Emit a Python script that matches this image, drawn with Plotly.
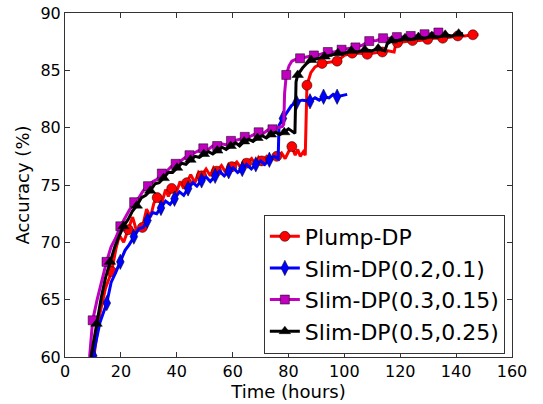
import plotly.graph_objects as go

# ---- data (time in hours, accuracy in %) ----
plump_t = [10.3, 12.5, 14.5, 16.7, 18.2, 19.5, 21.0, 22.7, 24.2, 25.6, 27.7, 29.2, 30.6, 31.8,
           33.0, 34.5, 36.0, 37.0, 38.2, 39.8, 41.2, 42.5, 43.6, 45.0, 46.5, 47.8, 48.9, 50.5,
           52.0, 53.2, 54.3, 56.0, 57.5, 58.6, 59.7, 61.5, 63.0, 64.0, 65.0, 66.8, 68.2, 69.3,
           70.4, 72.2, 73.6, 74.7, 75.8, 77.5, 78.8, 80.0, 81.2, 82.4, 83.3, 84.2, 85.3, 86.0,
           86.6, 88.0, 89.5, 92.0, 94.5, 97.4, 100.0, 102.8, 105.0, 108.2, 110.5, 113.6, 115.5,
           117.8, 118.4, 119.0, 122.0, 124.4, 127.0, 129.8, 132.0, 135.2, 137.5, 140.6, 143.0,
           146.0, 148.0]
plump_acc = [60.0, 63.8, 66.0, 67.45, 69.4, 70.6, 70.0, 71.1, 72.2, 71.0, 71.3, 72.9, 72.2, 73.4,
             73.9, 73.3, 74.6, 74.0, 74.7, 74.3, 75.3, 74.7, 75.2, 75.9, 75.2, 76.1, 75.8, 76.4,
             75.8, 76.5, 76.2, 76.7, 76.1, 76.8, 76.6, 77.0, 76.5, 77.1, 76.9, 77.3, 76.8, 77.4,
             77.1, 77.5, 77.1, 77.6, 77.5, 77.8, 77.3, 77.9, 78.35, 77.6, 78.1, 77.5, 77.9, 77.6,
             83.7, 84.8, 85.3, 85.6, 85.7, 85.8, 86.3, 86.5, 86.5, 86.4, 86.5, 86.6, 86.7,
             86.6, 87.3, 87.4, 87.5, 87.6, 87.6, 87.7, 87.8, 87.8, 87.9, 88.0, 88.0,
             88.1, 88.1]
plump_mark_t = [16.7, 22.7, 27.7, 33.0, 38.2, 43.6, 48.9, 54.3, 59.7, 65.0, 70.4, 75.8, 81.2,
                86.6, 92.0, 97.4, 102.8, 108.2, 113.6, 119.0, 124.4, 129.8, 135.2, 140.6, 146.0]
plump_mark_acc = [67.45, 71.1, 71.3, 73.9, 74.7, 75.2, 75.8, 76.2, 76.6, 76.9, 77.1, 77.5, 78.35,
                  83.7, 85.6, 85.8, 86.5, 86.4, 86.6, 87.4, 87.6, 87.7, 87.8, 88.0, 88.1]

slim1_t = [10.0, 12.5, 14.95, 16.5, 18.2, 19.8, 21.5, 23.0, 24.65, 26.5, 28.0, 29.5, 31.3, 32.8,
           34.35, 36.0, 37.6, 39.2, 41.0, 42.5, 44.05, 45.8, 47.2, 48.9, 50.5, 52.0, 53.75, 55.3,
           57.0, 58.6, 60.2, 61.8, 63.45, 65.0, 66.7, 68.3, 70.0, 71.5, 73.15, 74.8, 76.3, 76.6,
           78.0, 79.5, 81.0, 83.0, 85.0, 87.7, 89.5, 91.0, 92.55, 94.5, 96.0, 97.4, 99.0, 101.0]
slim1_acc = [60.1, 63.0, 64.7, 66.5, 67.4, 68.3, 69.3, 69.8, 70.5, 71.2, 71.3, 71.9, 72.6, 72.5,
             73.0, 73.6, 73.3, 73.8, 74.4, 74.1, 74.7, 75.2, 74.9, 75.4, 75.7, 75.3, 75.8, 76.2,
             75.8, 76.2, 76.5, 76.1, 76.4, 76.8, 76.4, 76.8, 77.1, 76.8, 77.2, 77.5, 77.3, 80.2,
             80.8, 81.4, 81.9, 82.3, 82.4, 82.3, 82.6, 82.4, 82.7, 82.6, 82.9, 82.7, 82.8, 82.9]
slim1_mark_t = [10.1, 14.95, 19.8, 24.65, 29.5, 34.35, 39.2, 44.05, 48.9, 53.75, 58.6, 63.45,
                68.3, 73.15, 78.0, 82.85, 87.7, 92.55, 97.4]
slim1_mark_acc = [60.1, 64.7, 68.3, 70.5, 71.9, 73.0, 73.8, 74.7, 75.4, 75.8, 76.2, 76.4,
                  76.8, 77.2, 80.8, 82.2, 82.3, 82.7, 82.7]

slim2_t = [8.8, 9.9, 11.5, 13.0, 14.85, 16.5, 18.2, 19.8, 21.5, 23.0, 24.75, 26.5, 28.0, 29.7,
           31.5, 33.0, 34.65, 36.4, 38.0, 39.6, 41.4, 43.0, 44.55, 46.3, 47.8, 49.5, 51.3, 52.8,
           54.45, 56.2, 57.7, 59.4, 61.2, 62.7, 64.35, 66.0, 67.6, 69.3, 71.0, 72.6, 74.25, 76.0,
           77.8, 78.3, 78.6, 79.2, 80.2, 81.2, 82.5, 84.15, 86.5, 89.1, 91.5, 94.05, 96.5, 99.0,
           101.5, 103.95, 106.5, 108.9, 111.5, 113.85, 116.5, 118.8, 121.0, 123.75, 126.0, 128.7,
           131.0, 133.65, 135.0]
slim2_acc = [60.0, 63.2, 65.0, 66.6, 68.3, 69.6, 70.4, 71.4, 72.2, 72.8, 73.5, 73.9, 74.5, 74.9,
             75.3, 75.5, 76.0, 76.2, 76.6, 76.85, 77.1, 77.4, 77.6, 77.8, 78.0, 78.2, 78.1, 78.4,
             78.4, 78.6, 78.5, 78.85, 78.9, 79.0, 79.2, 79.2, 79.4, 79.6, 79.5, 79.8, 79.86, 80.0,
             80.1, 80.3, 83.0, 84.6, 85.4, 85.8, 85.95, 86.05, 86.2, 86.3, 86.4, 86.6, 86.6, 86.8,
             86.9, 87.0, 87.2, 87.55, 87.6, 87.8, 87.8, 87.9, 87.9, 88.0, 88.0, 88.15,
             88.2, 88.3, 88.2]
slim2_mark_t = [9.9, 14.85, 19.8, 24.75, 29.7, 34.65, 39.6, 44.55, 49.5, 54.45, 59.4, 64.35,
                69.3, 74.25, 79.2, 84.15, 89.1, 94.05, 99.0, 103.95, 108.9, 113.85, 118.8,
                123.75, 128.7, 133.65]
slim2_mark_acc = [63.2, 68.3, 71.4, 73.5, 74.9, 76.0, 76.85, 77.6, 78.2, 78.4, 78.85, 79.2,
                  79.6, 79.86, 84.6, 86.05, 86.3, 86.6, 86.8, 87.0, 87.55, 87.8, 87.9,
                  88.0, 88.15, 88.3]

slim3_t = [9.3, 11.3, 13.0, 14.5, 16.1, 17.8, 19.3, 20.9, 22.6, 24.1, 25.7, 27.4, 28.9, 30.5,
           32.2, 33.7, 35.3, 37.0, 38.5, 40.1, 41.8, 43.3, 44.9, 46.6, 48.1, 49.7, 51.4, 52.9,
           54.5, 56.2, 57.7, 59.3, 61.0, 62.5, 64.1, 65.8, 67.3, 68.9, 70.6, 72.1, 73.7, 75.4,
           76.9, 78.5, 80.0, 81.2, 82.3, 82.7, 83.3, 85.0, 86.5, 88.1, 90.6, 92.9, 95.3, 97.7,
           100.1, 102.5, 104.9, 107.3, 109.7, 112.1, 114.5, 115.3, 116.9, 119.3, 121.7, 124.1,
           126.5, 128.9, 131.3, 133.7, 136.1, 138.5, 140.9, 142.5]
slim3_acc = [60.0, 62.9, 65.2, 66.9, 68.3, 69.6, 70.5, 71.4, 72.0, 72.7, 73.2, 73.9, 74.1, 74.5,
             75.1, 75.2, 75.6, 76.1, 76.1, 76.5, 76.9, 76.8, 77.2, 77.5, 77.4, 77.7, 77.9, 77.7,
             78.0, 78.3, 78.1, 78.4, 78.7, 78.4, 78.8, 79.0, 78.8, 79.1, 79.3, 79.1, 79.4, 79.6,
             79.4, 79.6, 79.9, 79.7, 79.5, 84.0, 84.6, 85.2, 85.6, 85.9, 86.05, 86.2, 86.3, 86.5,
             86.5, 86.7, 86.6, 86.8, 86.7, 86.9, 86.7, 87.3, 87.6, 87.6, 87.8, 87.7,
             87.9, 87.8, 88.0, 87.9, 88.1, 88.0, 88.2, 88.2]
slim3_mark_t = [11.3, 16.1, 20.9, 25.7, 30.5, 35.3, 40.1, 44.9, 49.7, 54.5, 59.3, 64.1, 68.9,
                73.7, 78.5, 83.3, 88.1, 92.9, 97.7, 102.5, 107.3, 112.1, 116.9, 121.7, 126.5,
                131.3, 136.1, 140.9]
slim3_mark_acc = [62.9, 68.3, 71.4, 73.2, 74.5, 75.6, 76.5, 77.2, 77.7, 78.0, 78.4, 78.8, 79.1,
                  79.4, 79.6, 84.6, 85.9, 86.2, 86.5, 86.7, 86.8, 86.9, 87.6, 87.8, 87.9,
                  88.0, 88.1, 88.2]

series = [
    ("Plump-DP", plump_t, plump_acc, plump_mark_t, plump_mark_acc, "#ff0000", "circle", 10),
    ("Slim-DP(0.2,0.1)", slim1_t, slim1_acc, slim1_mark_t, slim1_mark_acc, "#0000ff", "diamond-tall", 11),
    ("Slim-DP(0.3,0.15)", slim2_t, slim2_acc, slim2_mark_t, slim2_mark_acc, "#bf00bf", "square", 9),
    ("Slim-DP(0.5,0.25)", slim3_t, slim3_acc, slim3_mark_t, slim3_mark_acc, "#000000", "triangle-up", 10),
]

fig = go.Figure()
for name, t, acc, mt, macc, color, symbol, size in series:
    mk = dict(symbol=symbol, size=size, color=color, line=dict(color="#000000", width=0.5))
    fig.add_trace(go.Scatter(x=t, y=acc, mode="lines", line=dict(color=color, width=3),
                             showlegend=False, hoverinfo="skip"))
    fig.add_trace(go.Scatter(x=mt, y=macc, mode="markers", marker=mk, showlegend=False))
    # legend entry only
    fig.add_trace(go.Scatter(x=[None], y=[None], mode="lines+markers", name=name,
                             line=dict(color=color, width=3), marker=mk))

axis_common = dict(showline=True, linecolor="#333333", linewidth=1, mirror="ticks",
                   ticks="inside", ticklen=5, tickcolor="#333333", showgrid=False,
                   zeroline=False, automargin=False, ticklabeloverflow="allow",
                   tickfont=dict(size=16, color="black"))

fig.update_layout(
    width=543, height=404,
    margin=dict(l=65, r=31, t=13, b=47),
    paper_bgcolor="white", plot_bgcolor="white",
    font=dict(family="DejaVu Sans", color="black"),
    xaxis=dict(range=[0, 160], dtick=20,
               title=dict(text="Time (hours)", font=dict(size=18), standoff=0), **axis_common),
    yaxis=dict(range=[60, 90], dtick=5,
               title=dict(text="Accuracy (%)", font=dict(size=18), standoff=6), **axis_common),
    legend=dict(x=0.984, xanchor="right", y=0.01, yanchor="bottom",
                font=dict(size=22), bgcolor="white", bordercolor="#333333", borderwidth=1,
                tracegroupgap=0),
)

# drop the default page margin so the figure sits at the window's corner
fig.write_html("out.html", config={"displayModeBar": False},
               post_script="document.body.style.margin='0';")
